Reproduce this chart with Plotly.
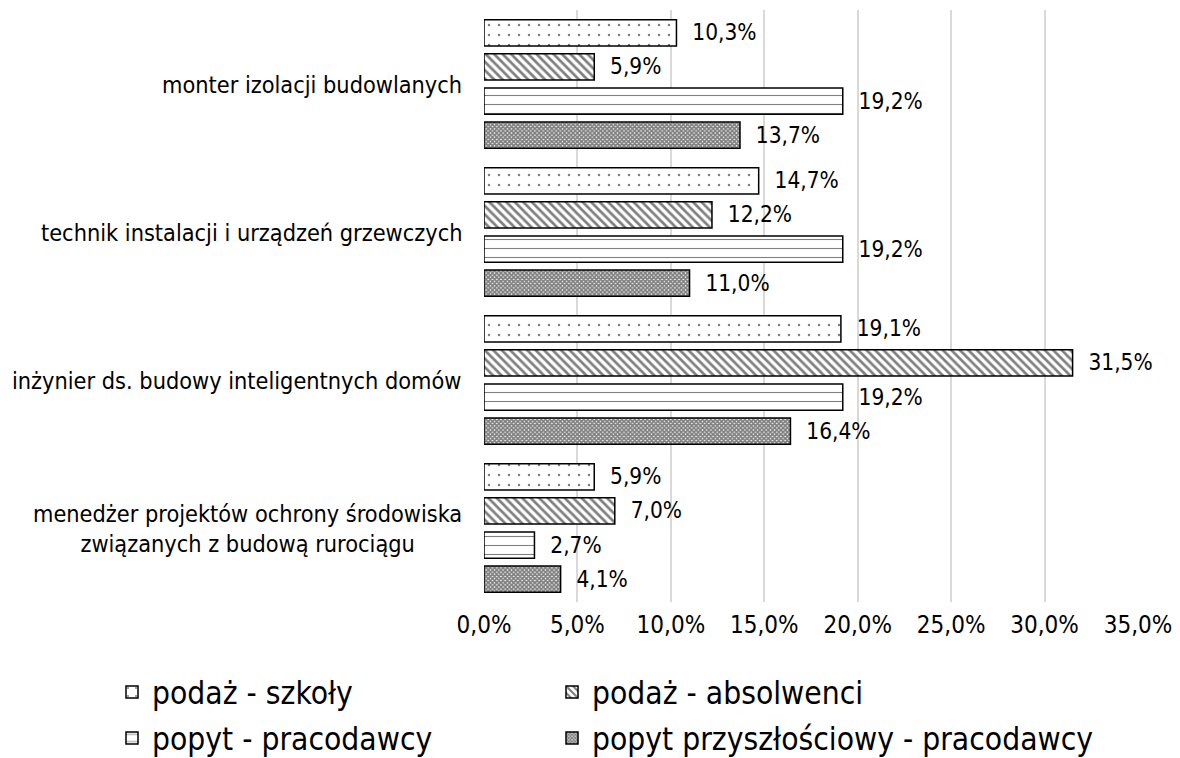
import plotly.graph_objects as go

categories = [
    "monter izolacji budowlanych",
    "technik instalacji i urządzeń grzewczych",
    "inżynier ds. budowy inteligentnych domów",
    "menedżer projektów ochrony środowiska<br>związanych z budową rurociągu",
]
series_names = [
    "podaż - szkoły",
    "podaż - absolwenci",
    "popyt - pracodawcy",
    "popyt przyszłościowy - pracodawcy",
]
szkoly = [10.3, 14.7, 19.1, 5.9]
absolwenci = [5.9, 12.2, 31.5, 7.0]
pracodawcy = [19.2, 19.2, 19.2, 2.7]
przyszlosciowy = [13.7, 11.0, 16.4, 4.1]
x_ticks = [0, 5, 10, 15, 20, 25, 30, 35]
x_tick_labels = [f"{v:.1f}%".replace(".", ",") for v in x_ticks]

values = [szkoly, absolwenci, pracodawcy, przyszlosciowy]
patterns = [
    dict(shape=".", size=10, solidity=0.05, fgcolor="black", bgcolor="white"),
    dict(shape="\\", size=6, solidity=0.45, fgcolor="black", bgcolor="white"),
    dict(shape="-", size=9, solidity=0.12, fgcolor="black", bgcolor="white"),
    dict(shape="x", size=3, solidity=0.8, fgcolor="black", bgcolor="white"),
]
legend_ids = ["legend", "legend2", "legend3", "legend4"]

FONT = "DejaVu Sans Condensed, DejaVu Sans, sans-serif"

fig = go.Figure()
for name, vals, pat, lg in zip(series_names, values, patterns, legend_ids):
    fig.add_trace(go.Bar(
        y=categories, x=vals, name=name, orientation="h",
        marker=dict(color="white", pattern=pat, line=dict(color="black", width=1.5)),
        texttemplate="\u00a0\u00a0%{x:.1f}%", textposition="outside",
        textfont=dict(size=24, color="black", family=FONT),
        cliponaxis=False, legend=lg,
    ))

annotations = []
for c in categories:
    annotations.append(dict(
        x=0, xref="paper", y=c, yref="y", text=c, showarrow=False,
        xanchor="right", xshift=-20, align="center",
        font=dict(size=23.3, color="black", family=FONT),
    ))

def legend_box(x_px, y_px):
    return dict(
        orientation="h", xref="paper", yref="paper",
        x=(x_px - 484) / 654, xanchor="left",
        y=(602 - y_px) / 592, yanchor="middle",
        font=dict(size=31.5, color="black", family=FONT),
        itemwidth=30, bgcolor="rgba(0,0,0,0)",
    )

fig.update_layout(
    width=1180, height=758,
    margin=dict(l=484, r=42, t=10, b=156, autoexpand=False),
    paper_bgcolor="white", plot_bgcolor="white",
    separators=", ",
    barmode="group", bargap=0.08, bargroupgap=0.23,
    font=dict(family=FONT, size=24, color="black"),
    xaxis=dict(range=[0, 35], tickmode="array", tickvals=x_ticks, ticktext=x_tick_labels,
               showgrid=True, gridcolor="#d9d9d9", gridwidth=1.5, zeroline=False,
               showline=False, ticks="", tickfont=dict(size=24, color="black", family=FONT),
               ticklabelstandoff=6),
    yaxis=dict(autorange="reversed", showticklabels=False, showgrid=False,
               zeroline=False, showline=False, ticks=""),
    annotations=annotations,
    showlegend=True,
    legend=legend_box(112, 692),
    legend2=legend_box(552, 692),
    legend3=legend_box(112, 738),
    legend4=legend_box(552, 738),
)

fig.write_html("out.html", config={"displayModeBar": False},
               post_script="document.body.style.margin='0';")
